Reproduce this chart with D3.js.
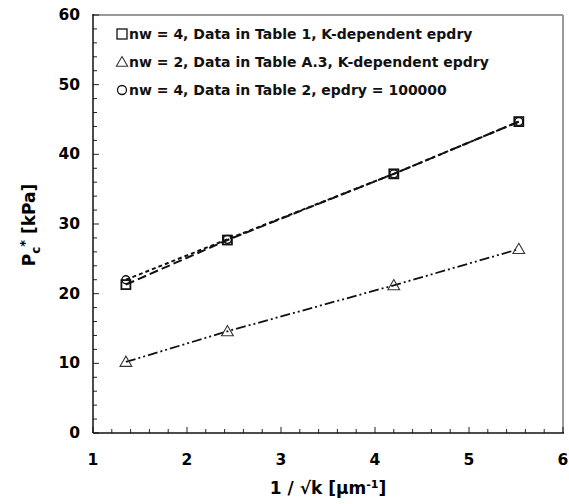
<!DOCTYPE html>
<html><head><meta charset="utf-8">
<script src="https://cdn.jsdelivr.net/npm/d3@7"></script>
<style>body{margin:0;background:#fff}svg{display:block}</style>
</head><body>
<svg id="c" width="569" height="504"></svg>
<script>
const xVals = [1.35, 2.43, 4.2, 5.53];
const squareVals = [21.3, 27.7, 37.2, 44.7];
const triangleVals = [10.2, 14.6, 21.2, 26.4];
const circleVals = [22.0, 27.8, 37.2, 44.7];
const legendLabels = [
  "nw = 4, Data in Table 1, K-dependent epdry",
  "nw = 2, Data in Table A.3, K-dependent epdry",
  "nw = 4, Data in Table 2, epdry = 100000"
];
const xTicks = [1, 2, 3, 4, 5, 6];
const yTicks = [0, 10, 20, 30, 40, 50, 60];

const svg = d3.select("#c");
const L = 93, R = 563, T = 15, B = 433;
const x = d3.scaleLinear().domain([1, 6]).range([L, R]);
const y = d3.scaleLinear().domain([0, 60]).range([B, T]);
const font = "DejaVu Sans, Verdana, sans-serif";

// frame
svg.append("line").attr("x1", L).attr("x2", R).attr("y1", T).attr("y2", T).attr("stroke", "#999").attr("stroke-width", 2);
svg.append("line").attr("x1", R).attr("x2", R).attr("y1", T).attr("y2", B).attr("stroke", "#999").attr("stroke-width", 2);

// minor ticks
const g = svg.append("g");
d3.range(1, 6.001, 0.2).forEach(v => {
  const isMaj = Math.abs(v - Math.round(v)) < 1e-6;
  g.append("line").attr("x1", x(v)).attr("x2", x(v)).attr("y1", B).attr("y2", B - (isMaj ? 6 : 4)).attr("stroke", "#222").attr("stroke-width", 1);
});
d3.range(0, 60.001, 2).forEach(v => {
  const isMaj = v % 10 === 0;
  g.append("line").attr("x1", L).attr("x2", L + (isMaj ? 6 : 4)).attr("y1", y(v)).attr("y2", y(v)).attr("stroke", "#222").attr("stroke-width", 1);
});
svg.append("line").attr("x1", L).attr("x2", L).attr("y1", T - 1).attr("y2", B).attr("stroke", "#111").attr("stroke-width", 1.5);
svg.append("line").attr("x1", L).attr("x2", R + 1).attr("y1", B).attr("y2", B).attr("stroke", "#111").attr("stroke-width", 1.5);

// tick labels
svg.selectAll(".xt").data(xTicks).enter().append("text")
  .attr("x", d => x(d)).attr("y", 465).attr("text-anchor", "middle")
  .attr("font-family", font).attr("font-weight", "bold").attr("font-size", 15.5).text(d => d);
svg.selectAll(".yt").data(yTicks).enter().append("text")
  .attr("x", 80).attr("y", d => y(d) + 5).attr("text-anchor", "end")
  .attr("font-family", font).attr("font-weight", "bold").attr("font-size", 15.5).text(d => d);

// axis titles
const xt = svg.append("text").attr("x", 328).attr("y", 494).attr("text-anchor", "middle")
  .attr("font-family", font).attr("font-weight", "bold").attr("font-size", 17);
xt.append("tspan").text("1 / \u221Ak [\u03BCm");
xt.append("tspan").attr("dy", -6).attr("font-size", 11).text("-1");
xt.append("tspan").attr("dy", 6).text("]");

const yt = svg.append("text").attr("transform", "translate(35,225) rotate(-90)").attr("text-anchor", "middle")
  .attr("font-family", font).attr("font-weight", "bold").attr("font-size", 17);
yt.append("tspan").text("P");
yt.append("tspan").attr("dy", 5).attr("font-size", 12).text("c");
yt.append("tspan").attr("dy", -11).attr("font-size", 13).text("*");
yt.append("tspan").attr("dy", 6).text(" [kPa]");

// lines
const line = d3.line().x(d => x(d[0])).y(d => y(d[1]));
const sq = xVals.map((v, i) => [v, squareVals[i]]);
const tr = xVals.map((v, i) => [v, triangleVals[i]]);
const ci = xVals.map((v, i) => [v, circleVals[i]]);
svg.append("path").attr("d", line(ci)).attr("fill", "none").attr("stroke", "#111").attr("stroke-width", 2).attr("stroke-dasharray", "4,3");
svg.append("path").attr("d", line(sq)).attr("fill", "none").attr("stroke", "#111").attr("stroke-width", 2).attr("stroke-dasharray", "9,4");
svg.append("path").attr("d", line(tr)).attr("fill", "none").attr("stroke", "#111").attr("stroke-width", 1.8).attr("stroke-dasharray", "10,3,2,3,2,3");

// markers
const s = 9;
svg.selectAll(".sq").data(sq).enter().append("rect")
  .attr("x", d => x(d[0]) - s / 2).attr("y", d => y(d[1]) - s / 2).attr("width", s).attr("height", s)
  .attr("fill", "none").attr("stroke", "#111").attr("stroke-width", 1.8);
svg.selectAll(".ci").data(ci).enter().append("circle")
  .attr("cx", d => x(d[0])).attr("cy", d => y(d[1])).attr("r", 4)
  .attr("fill", "none").attr("stroke", "#111").attr("stroke-width", 1.4);
const tri = d3.symbol().type(d3.symbolTriangle).size(60);
svg.selectAll(".tr").data(tr).enter().append("path")
  .attr("transform", d => `translate(${x(d[0])},${y(d[1]) + 1})`).attr("d", tri)
  .attr("fill", "none").attr("stroke", "#333").attr("stroke-width", 1.1);

// legend
const ly = [34, 62, 90];
svg.append("rect").attr("x", 117).attr("y", ly[0] - 5).attr("width", 10).attr("height", 10).attr("fill", "none").attr("stroke", "#111").attr("stroke-width", 1.3);
svg.append("path").attr("transform", `translate(122,${ly[1] + 1})`).attr("d", d3.symbol().type(d3.symbolTriangle).size(55)).attr("fill", "none").attr("stroke", "#333").attr("stroke-width", 1.1);
svg.append("circle").attr("cx", 122).attr("cy", ly[2]).attr("r", 4.5).attr("fill", "none").attr("stroke", "#111").attr("stroke-width", 1.3);
svg.selectAll(".lg").data(legendLabels).enter().append("text")
  .attr("x", 129).attr("y", (d, i) => ly[i] + 5)
  .attr("font-family", font).attr("font-weight", "bold").attr("font-size", 14).attr("fill", "#111")
  .text(d => d);
</script>
</body></html>
